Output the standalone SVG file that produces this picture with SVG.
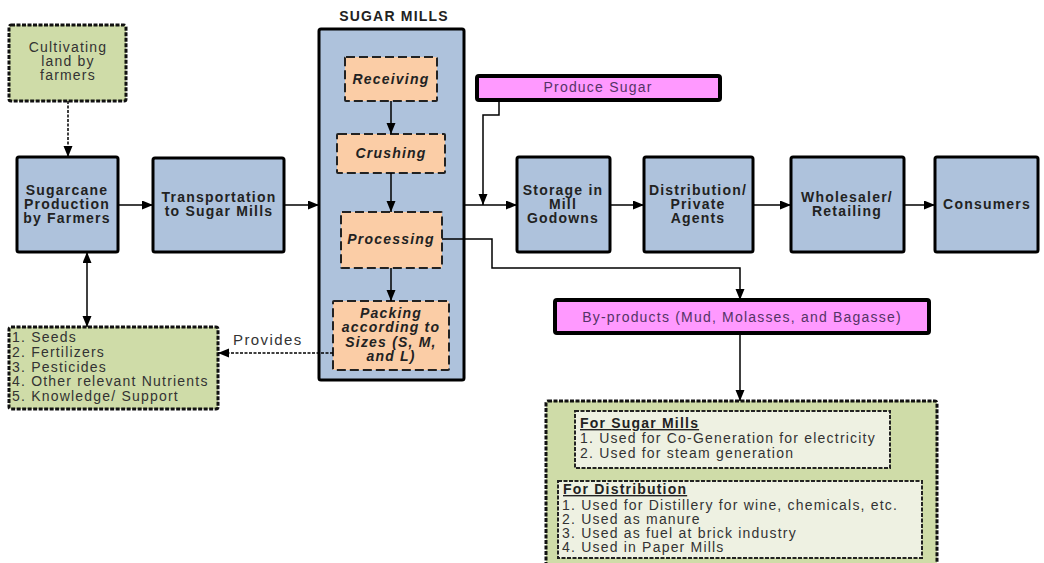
<svg xmlns="http://www.w3.org/2000/svg" width="1044" height="563" viewBox="0 0 1044 563">
<defs>
<marker id="ah" markerUnits="userSpaceOnUse" markerWidth="12" markerHeight="10" refX="11" refY="4.5" orient="auto-start-reverse"><path d="M0,0 L11,4.5 L0,9 z" fill="#000"/></marker>
<style>
.blue{fill:#aec2dc;stroke:#000;stroke-width:3}
.orange{fill:#fbcda6;stroke:#222;stroke-width:2;stroke-dasharray:9 4}
.green{fill:#cfdca8;stroke:#111;stroke-width:3;stroke-dasharray:4 1.5}
.inner{fill:#eef1e2;stroke:#222;stroke-width:2;stroke-dasharray:4 1.5}
.pink{fill:#ff99ff;stroke:#000;stroke-width:4}
.c{fill:none;stroke:#000;stroke-width:1.5}
text{font-family:"Liberation Sans",Arial,sans-serif;font-size:14px;letter-spacing:1.2px;fill:#333}
.b{font-weight:bold;fill:#222}
.bi{font-weight:bold;font-style:italic;fill:#222}
.m{text-anchor:middle}
.p{fill:#553366}
</style>
</defs>
<g id="cultivating">
<rect class="green" x="9" y="25" width="117" height="76" rx="2"/>
<text class="m" x="68" y="52">Cultivating</text>
<text class="m" x="68" y="66">land by</text>
<text class="m" x="68" y="80">farmers</text>
</g>
<g id="sugarcane">
<rect class="blue" x="17" y="157" width="101" height="95" rx="2"/>
<text class="m b" x="67" y="195">Sugarcane</text>
<text class="m b" x="67" y="209">Production</text>
<text class="m b" x="67" y="223">by Farmers</text>
</g>
<g id="transport">
<rect class="blue" x="153" y="158" width="131" height="94" rx="2"/>
<text class="m b" x="219" y="202">Transportation</text>
<text class="m b" x="219" y="216">to Sugar Mills</text>
</g>
<g id="sugarmills">
<text class="m b" x="394" y="21">SUGAR MILLS</text>
<rect class="blue" x="319" y="29" width="145" height="351" rx="2"/>
</g>
<g id="receiving">
<rect class="orange" x="345" y="57" width="92" height="44" rx="1"/>
<text class="m bi" x="391" y="84">Receiving</text>
</g>
<g id="crushing">
<rect class="orange" x="337" y="134" width="108" height="39" rx="1"/>
<text class="m bi" x="391" y="158">Crushing</text>
</g>
<g id="processing">
<rect class="orange" x="341" y="212" width="101" height="56" rx="1"/>
<text class="m bi" x="391" y="244">Processing</text>
</g>
<g id="packing">
<rect class="orange" x="333" y="301" width="116" height="69" rx="1"/>
<text class="m bi" x="391" y="318">Packing</text>
<text class="m bi" x="391" y="332">according to</text>
<text class="m bi" x="391" y="347">Sizes (S, M,</text>
<text class="m bi" x="391" y="361">and L)</text>
</g>
<g id="producesugar">
<rect class="pink" x="477" y="76" width="243" height="24" rx="2"/>
<text class="m p" x="598" y="92">Produce Sugar</text>
</g>
<g id="storage">
<rect class="blue" x="517" y="157" width="93" height="95" rx="2"/>
<text class="m b" x="563" y="195">Storage in</text>
<text class="m b" x="563" y="209">Mill</text>
<text class="m b" x="563" y="223">Godowns</text>
</g>
<g id="distribution">
<rect class="blue" x="644" y="157" width="109" height="95" rx="2"/>
<text class="m b" x="698" y="195">Distribution/</text>
<text class="m b" x="698" y="209">Private</text>
<text class="m b" x="698" y="223">Agents</text>
</g>
<g id="wholesaler">
<rect class="blue" x="791" y="157" width="113" height="95" rx="2"/>
<text class="m b" x="847" y="202">Wholesaler/</text>
<text class="m b" x="847" y="216">Retailing</text>
</g>
<g id="consumers">
<rect class="blue" x="935" y="157" width="103" height="95" rx="2"/>
<text class="m b" x="987" y="209">Consumers</text>
</g>
<g id="byproducts">
<rect class="pink" x="555" y="300" width="374" height="33" rx="2"/>
<text class="m p" x="742" y="322">By-products (Mud, Molasses, and Bagasse)</text>
</g>
<g id="inputs">
<rect class="green" x="9" y="327" width="209" height="82" rx="2"/>
<text x="12" y="342">1. Seeds</text>
<text x="12" y="357">2. Fertilizers</text>
<text x="12" y="372">3. Pesticides</text>
<text x="12" y="386">4. Other relevant Nutrients</text>
<text x="12" y="401">5. Knowledge/ Support</text>
</g>
<g id="uses">
<rect class="green" x="546" y="401" width="391" height="170" rx="2"/>
<rect class="inner" x="575" y="411" width="315" height="57"/>
<text class="b" x="580" y="428" text-decoration="underline">For Sugar Mills</text>
<text x="580" y="443">1. Used for Co-Generation for electricity</text>
<text x="580" y="458">2. Used for steam generation</text>
<rect class="inner" x="558" y="481" width="364" height="77"/>
<text class="b" x="563" y="494" text-decoration="underline">For Distribution</text>
<text x="562" y="510">1. Used for Distillery for wine, chemicals, etc.</text>
<text x="562" y="524">2. Used as manure</text>
<text x="562" y="538">3. Used as fuel at brick industry</text>
<text x="562" y="552">4. Used in Paper Mills</text>
</g>
<g id="connectors">
<path class="c" d="M68,101 V157" stroke-dasharray="3 1.5" stroke-width="2" marker-end="url(#ah)"/>
<path class="c" d="M118,205 H153" marker-end="url(#ah)"/>
<path class="c" d="M284,205 H319" marker-end="url(#ah)"/>
<path class="c" d="M464,205 H517" marker-end="url(#ah)"/>
<path class="c" d="M499,101 V115 H483 V205" marker-end="url(#ah)"/>
<path class="c" d="M610,205 H644" marker-end="url(#ah)"/>
<path class="c" d="M753,205 H791" marker-end="url(#ah)"/>
<path class="c" d="M904,205 H935" marker-end="url(#ah)"/>
<path class="c" d="M391,101 V134" marker-end="url(#ah)"/>
<path class="c" d="M391,173 V212" marker-end="url(#ah)"/>
<path class="c" d="M391,268 V301" marker-end="url(#ah)"/>
<path class="c" d="M442,239 H492 V268 H740 V300" marker-end="url(#ah)"/>
<path class="c" d="M740,333 V401" marker-end="url(#ah)"/>
<path class="c" d="M87,252 V327" marker-start="url(#ah)" marker-end="url(#ah)"/>
<path class="c" d="M333,353 H218" stroke-dasharray="3 1.5" stroke-width="2" marker-end="url(#ah)"/>
<text x="233" y="345" style="font-size:15px;letter-spacing:1.4px">Provides</text>
</g>
</svg>
